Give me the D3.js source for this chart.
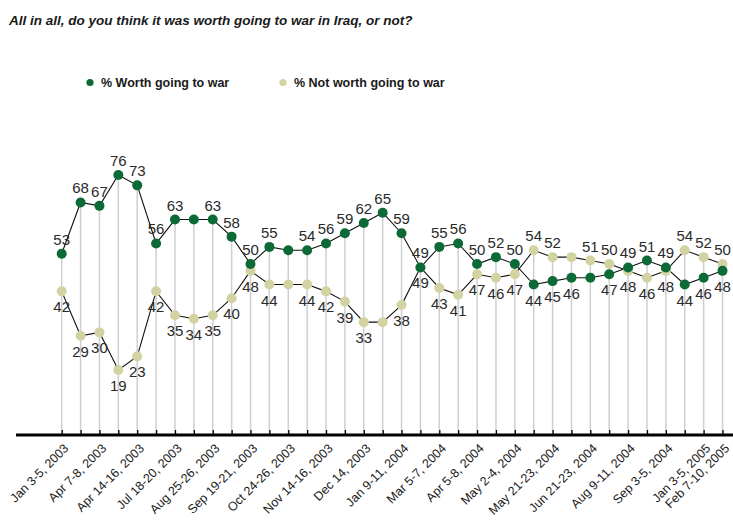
<!DOCTYPE html>
<html lang="en">
<head>
    <meta charset="utf-8">
    <title>Worth going to war in Iraq</title>
    <script type="text/javascript" src="https://d3js.org/d3.v7.min.js"></script>
    <style type="text/css">
        body {
            margin: 0;
            background-color: white;
            font-family: Arial, "Liberation Sans", sans-serif;
        }

        .title {
            font-size: 13.5px;
            font-weight: bold;
            font-style: italic;
            fill: #1a1a1a;
        }

        .legend text {
            font-size: 12.5px;
            font-weight: bold;
            fill: #1a1a1a;
        }

        .val {
            font-size: 15px;
            fill: #2a2a2a;
            text-anchor: middle;
        }

        .tick text {
            font-size: 12.5px;
            fill: #1a1a1a;
        }
    </style>
</head>

<body>
    <div id="graph"></div>

    <script type="text/javascript">

        // survey dates (only every other one is printed on the axis)
        var dateLabels = [
            "Jan 3-5, 2003", "", "Apr 7-8, 2003", "", "Apr 14-16, 2003", "",
            "Jul 18-20, 2003", "", "Aug 25-26, 2003", "", "Sep 19-21, 2003", "",
            "Oct 24-26, 2003", "", "Nov 14-16, 2003", "", "Dec 14, 2003", "",
            "Jan 9-11, 2004", "", "Mar 5-7, 2004", "", "Apr 5-8, 2004", "",
            "May 2-4, 2004", "", "May 21-23, 2004", "", "Jun 21-23, 2004", "",
            "Aug 9-11, 2004", "", "Sep 3-5, 2004", "", "Jan 3-5, 2005", "Feb 7-10, 2005"
        ];

        var worth = [53, 68, 67, 76, 73, 56, 63, 63, 63, 58, 50, 55, 54, 54, 56, 59, 62, 65,
            59, 49, 55, 56, 50, 52, 50, 44, 45, 46, 46, 47, 49, 51, 49, 44, 46, 48];

        var notWorth = [42, 29, 30, 19, 23, 42, 35, 34, 35, 40, 48, 44, 44, 44, 42, 39, 33, 33,
            38, 49, 43, 41, 47, 46, 47, 54, 52, 52, 51, 50, 48, 46, 48, 54, 52, 50];

        // points whose value is not printed in the original
        var worthNoLabel = [7, 12, 28];
        var notWorthNoLabel = [12, 17, 27];

        var seriesNames = ["% Worth going to war", "% Not worth going to war"];
        var colors = ["#0b6a36", "#d3d2a2"];

        var width = 733, height = 525;

        const svg = d3.select("#graph")
            .append("svg")
            .attr("width", width)
            .attr("height", height);

        // scales
        var x = d3.scalePoint()
            .domain(d3.range(worth.length))
            .range([61.7, 722.5]);
        var y = d3.scaleLinear()
            .domain([0, 100])
            .range([435, 93]);

        // title
        svg.append("text")
            .attr("class", "title")
            .attr("x", 9)
            .attr("y", 25)
            .text("All in all, do you think it was worth going to war in Iraq, or not?");

        // legend
        var legend = svg.append("g").attr("class", "legend");
        var legendX = [90, 283];
        seriesNames.forEach(function (name, i) {
            legend.append("circle")
                .attr("cx", legendX[i])
                .attr("cy", 82.5)
                .attr("r", 3.6)
                .attr("fill", colors[i]);
            legend.append("text")
                .attr("x", legendX[i] + 11)
                .attr("y", 87)
                .text(name);
        });

        var idx = d3.range(worth.length);

        // drop lines from the top point down to the axis
        svg.selectAll(".drop")
            .data(idx)
            .enter()
            .append("line")
            .attr("class", "drop")
            .attr("x1", function (i) { return x(i); })
            .attr("x2", function (i) { return x(i); })
            .attr("y1", function (i) { return y(Math.max(worth[i], notWorth[i])); })
            .attr("y2", y(0))
            .attr("stroke", "#cfcfcf")
            .attr("stroke-width", 1.5);

        // x axis
        var xAxis = d3.axisBottom(x)
            .tickSizeInner(-5)
            .tickSizeOuter(0)
            .tickFormat(function (i) { return dateLabels[i]; });

        var gx = svg.append("g")
            .attr("transform", `translate(0, ${y(0)})`)
            .call(xAxis);
        gx.select(".domain").remove();
        gx.selectAll(".tick line")
            .attr("stroke", "#000")
            .attr("stroke-width", 1.3);
        gx.selectAll(".tick text")
            .attr("x", 0)
            .attr("y", 0)
            .attr("dy", "0.35em")
            .attr("text-anchor", "end")
            .attr("transform", "translate(4, 11) rotate(-45)");

        svg.append("line")
            .attr("x1", 16)
            .attr("x2", width)
            .attr("y1", y(0))
            .attr("y2", y(0))
            .attr("stroke", "#000")
            .attr("stroke-width", 3);

        // lines
        var line = function (vals) {
            return d3.line()
                .x(function (i) { return x(i); })
                .y(function (i) { return y(vals[i]); })(idx);
        };
        [notWorth, worth].forEach(function (vals) {
            svg.append("path")
                .attr("d", line(vals))
                .attr("fill", "none")
                .attr("stroke", "#111")
                .attr("stroke-width", 1.1);
        });

        // dots
        [notWorth, worth].forEach(function (vals, k) {
            svg.selectAll(".dot" + k)
                .data(idx)
                .enter()
                .append("circle")
                .attr("class", "dot" + k)
                .attr("cx", function (i) { return x(i); })
                .attr("cy", function (i) { return y(vals[i]); })
                .attr("r", 5)
                .attr("fill", colors[1 - k]);
        });

        // value labels: the higher series is labelled above, the lower one below
        var labelSeries = [
            { vals: worth, other: notWorth, skip: worthNoLabel, top: true },
            { vals: notWorth, other: worth, skip: notWorthNoLabel, top: false }
        ];
        labelSeries.forEach(function (s) {
            svg.selectAll(null)
                .data(idx.filter(function (i) { return s.skip.indexOf(i) < 0; }))
                .enter()
                .append("text")
                .attr("class", "val")
                .attr("x", function (i) { return x(i); })
                .attr("y", function (i) {
                    var above = s.vals[i] > s.other[i] || (s.vals[i] == s.other[i] && s.top);
                    return above ? y(s.vals[i]) - 9 : y(s.vals[i]) + 21;
                })
                .text(function (i) { return s.vals[i]; });
        });

    </script>
</body>
</html>
